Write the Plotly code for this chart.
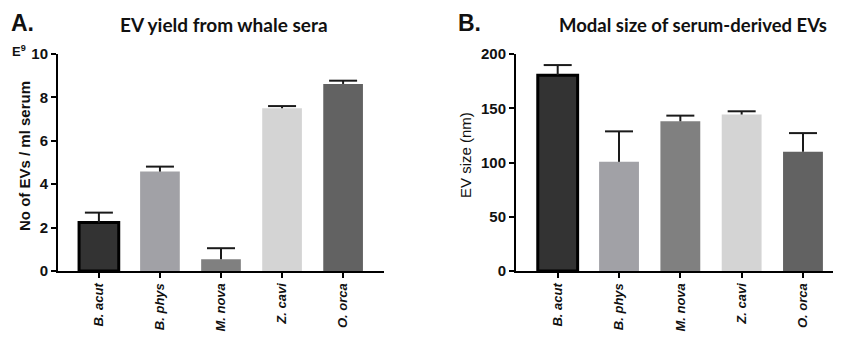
import plotly.graph_objects as go

species = ["B. acut", "B. phys", "M. nova", "Z. cavi", "O. orca"]
yield_vals = [2.23, 4.58, 0.54, 7.50, 8.62]
yield_err = [0.46, 0.23, 0.51, 0.10, 0.15]
size_vals = [180.5, 100.6, 138.0, 144.2, 109.9]
size_err = [9.3, 28.1, 5.2, 3.0, 17.2]
yield_ticks = [0, 2, 4, 6, 8, 10]
size_ticks = [0, 50, 100, 150, 200]

bar_colors = ["#333333", "#a1a1a6", "#808080", "#d4d4d4", "#626262"]
line_widths = [3, 0, 0, 0, 0]

OFF = 8  # page body margin in the browser
W, H = 841 - OFF, 345 - OFF


def px(x):
    return (x - OFF) / W


def py(y):
    return 1 - (y - OFF) / H


fig = go.Figure()

for vals, errs, xa, ya in [(yield_vals, yield_err, "x", "y"), (size_vals, size_err, "x2", "y2")]:
    fig.add_trace(go.Bar(
        x=species, y=vals, xaxis=xa, yaxis=ya, width=0.65,
        marker=dict(color=bar_colors, line=dict(color="#000000", width=line_widths)),
        error_y=dict(type="data", array=errs, arrayminus=[0] * len(errs), symmetric=False,
                     color="#1a1a1a", thickness=2, width=0),
        showlegend=False, hoverinfo="skip",
    ))
    # caps only at the top end of each error bar
    fig.add_trace(go.Scatter(
        x=species, y=[v + e for v, e in zip(vals, errs)], xaxis=xa, yaxis=ya,
        mode="markers", marker=dict(symbol="line-ew", size=20, line=dict(color="#1a1a1a", width=2)),
        showlegend=False, hoverinfo="skip",
    ))

tickfont = dict(family="Liberation Sans, Arial", size=15, color="#111111", weight=700)
catfont = dict(family="Liberation Sans, Arial", size=13, color="#111111", weight=700, style="italic")
ydom = [py(271), py(54)]

axis_common = dict(showline=True, linecolor="#000000", linewidth=2, ticks="outside",
                   ticklen=5, tickwidth=2, tickcolor="#000000", showgrid=False,
                   zeroline=False, automargin=False, fixedrange=True)

fig.update_layout(
    width=W, height=H,
    margin=dict(l=0, r=0, t=0, b=0, autoexpand=False),
    paper_bgcolor="white", plot_bgcolor="white",
    xaxis=dict(domain=[px(58), px(384)], range=[-0.67, 4.67], tickangle=-90,
               tickfont=catfont, anchor="y", **axis_common),
    yaxis=dict(domain=ydom, range=[0, 10], tickvals=yield_ticks,
               tickfont=tickfont, anchor="x", **axis_common),
    xaxis2=dict(domain=[px(516), 1.0], range=[-0.68, 4.62], tickangle=-90,
                tickfont=catfont, anchor="y2", **axis_common),
    yaxis2=dict(domain=ydom, range=[0, 200], tickvals=size_ticks,
                tickfont=tickfont, anchor="x2", **axis_common),
)

ann = [
    dict(text="<b>A.</b>", x=9, y=8, yanchor="top", font=dict(family="Liberation Sans, Arial", size=23, color="#111")),
    dict(text="<b>B.</b>", x=456, y=8, yanchor="top", font=dict(family="Liberation Sans, Arial", size=23, color="#111")),
    dict(text="<b>EV yield from whale sera</b>", x=224, y=25, xanchor="center",
         font=dict(family="Lato", size=19, color="#111")),
    dict(text="<b>Modal size of serum-derived EVs</b>", x=693, y=25, xanchor="center",
         font=dict(family="Lato", size=18.5, color="#111")),
    dict(text="<b>E<sup>9</sup></b>", x=10, y=51, font=dict(family="Liberation Sans, Arial", size=13, color="#111")),
    dict(text="<b>No of EVs / ml serum</b>", x=24, y=156, xanchor="center", textangle=-90,
         font=dict(family="Liberation Sans, Arial", size=15, color="#111")),
    dict(text="EV size (nm)", x=465, y=155, xanchor="center", textangle=-90,
         font=dict(family="Liberation Sans, Arial", size=15, color="#111")),
]
for a in ann:
    a.setdefault("xanchor", "left")
    a.setdefault("yanchor", "middle")
    a["x"] = px(a["x"])
    a["y"] = py(a["y"])
    a.update(xref="paper", yref="paper", showarrow=False)
fig.update_layout(annotations=ann)

fig.write_html("out.html")
